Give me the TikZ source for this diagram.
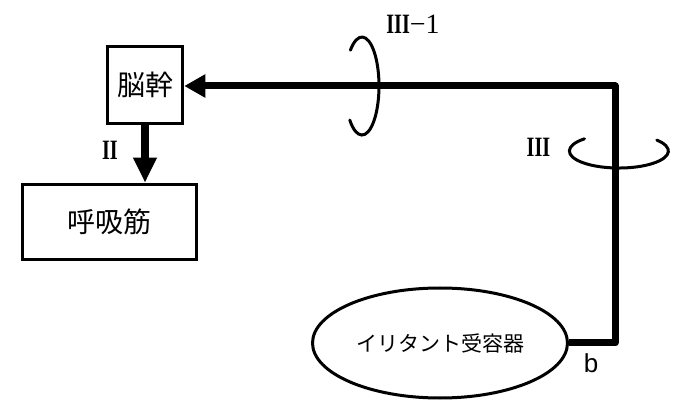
\documentclass[tikz,border=0pt]{standalone}
\usepackage{fontspec}
\setmainfont{Liberation Serif}
\newfontfamily\jpfont{Noto Sans CJK JP}
\newfontfamily\arialfont{Liberation Sans}
\usetikzlibrary{arrows.meta,shapes.geometric}
\newcommand{\narrowtxt}[1]{\scalebox{0.72}[1]{#1}}
\tikzset{
  boxnode/.style={draw,line width=3.5pt,inner sep=0pt,font=\jpfont\fontsize{28}{30}\selectfont},
  mainline/.style={line width=7pt,line join=round,-{Triangle[length=21pt,width=22pt]}},
  loopline/.style={line width=3pt,line cap=round},
  lbl/.style={inner sep=0pt,font=\bfseries\fontsize{28}{30}\selectfont},
}
\begin{document}
\begin{tikzpicture}[x=1pt,y=1pt]
\useasboundingbox (0,0) rectangle (683,418);
\fill[white] (0,0) rectangle (683,418);
\node[boxnode,minimum width=75pt,minimum height=77pt] (brain) at (145,333) {脳幹};
\node[boxnode,minimum width=174pt,minimum height=75pt] (resp) at (109.5,196) {呼吸筋};
\node[draw,ellipse,line width=3pt,minimum width=255pt,minimum height=110pt,inner sep=0pt,
      font=\jpfont\fontsize{21}{23}\selectfont] (recep) at (440,75) {イリタント受容器};
\coordinate (c1) at (615,75);
\coordinate (c2) at (615,332);
\draw[mainline] (recep.east) -- (c1) -- (c2) -- (brain.east |- c2);
\draw[line width=8pt,-{Triangle[length=25pt,width=22pt]}] (brain.south) -- (brain.south |- resp.north);
\node[lbl] (l2) at (110,268) {\narrowtxt{II}};
\node[lbl] (l31) at (413,393.5) {\narrowtxt{III}\mdseries−1};
\node[lbl] (l3) at (538.5,270.5) {\narrowtxt{III}};
\node[inner sep=0pt,font=\arialfont\fontsize{26}{28}\selectfont] (lb) at (591,55) {b};
\draw[loopline] (350.4,367.8) arc[start angle=133,end angle=-136,x radius=17,y radius=49];
\draw[loopline] (584.5,279.2) arc[start angle=134,end angle=400,x radius=49.5,y radius=17];
\end{tikzpicture}
\end{document}
